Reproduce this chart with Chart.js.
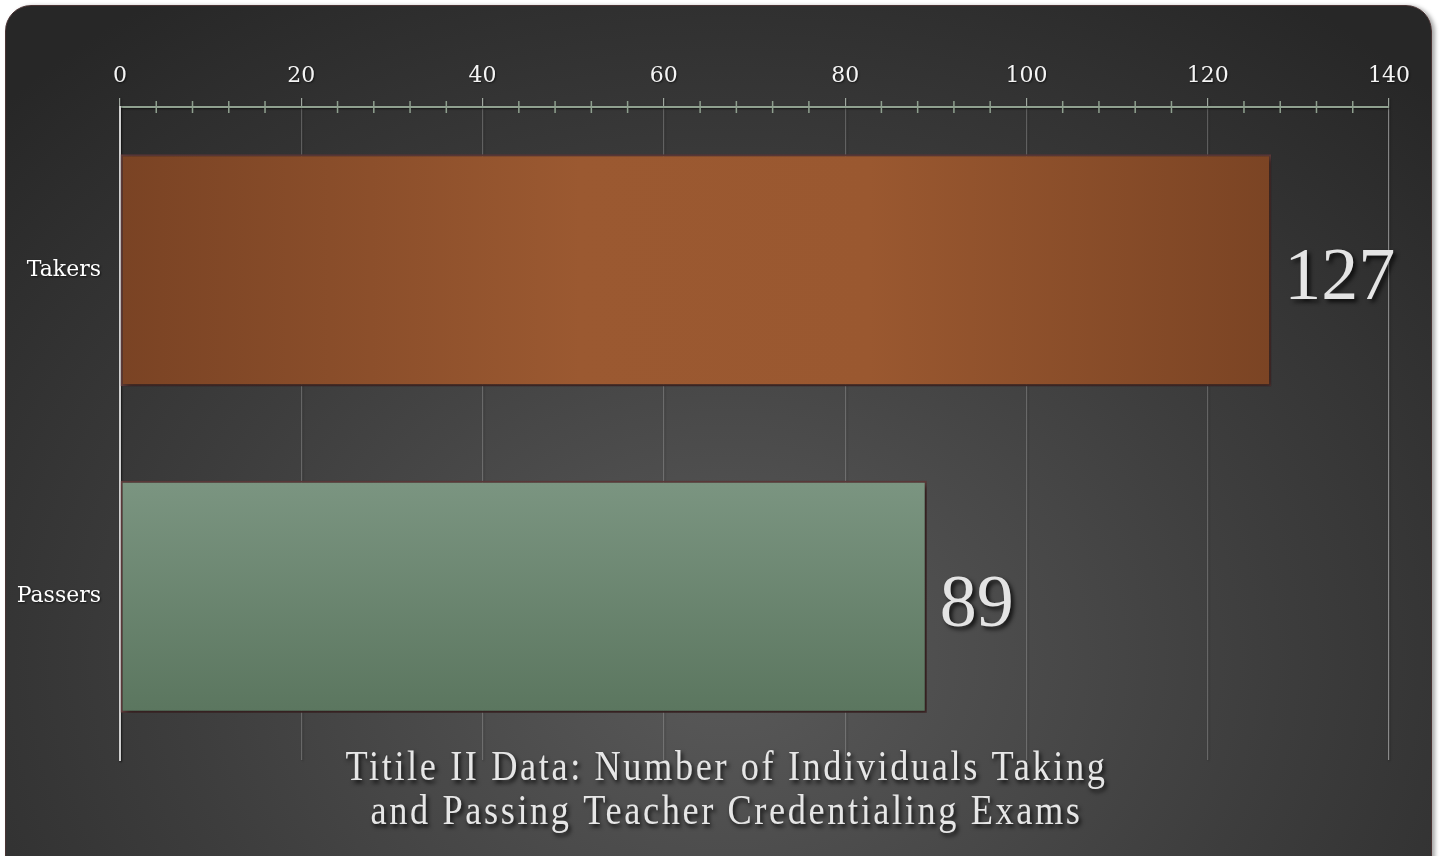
<!DOCTYPE html>
<html>
<head>
<meta charset="utf-8">
<script src="https://cdn.jsdelivr.net/npm/chart.js@4.4.0/dist/chart.umd.min.js"></script>
<style>
html, body { margin: 0; padding: 0; background: #fff; }
#wrap { position: relative; width: 1445px; height: 856px; overflow: hidden; }
#panel {
    position: absolute; left: 5px; top: 5px; width: 1425px; height: 900px;
    border-radius: 26px; border: 1px solid #4a3434;
    background: radial-gradient(ellipse 1000px 800px at 720px 650px, #5a5a5a 0%, #3d3d3d 55%, #272727 100%);
    box-shadow: 3px 1px 4px rgba(0,0,0,0.35);
}
#chart { position: absolute; left: 0; top: 0; }
</style>
</head>
<body>
<div id="wrap">
    <div id="panel"></div>
    <canvas id="chart" width="1445" height="856"></canvas>
</div>
<script>
// ---- données ----
const categories = ['Takers', 'Passers'];
const values = [127, 89];
const xMin = 0;
const xMax = 140;
const minorStep = 4;
const majorStep = 20;
const titleLines = [
    'Titile II Data: Number of Individuals Taking',
    'and Passing Teacher Credentialing Exams'
];

// couleurs des barres (dégradés)
function barFill(c) {
    const chart = c.chart;
    const sx = chart.scales.x, sy = chart.scales.y;
    if (!chart.chartArea || !sx || !sy) return '#8a4f2b';
    const g = chart.ctx;
    if (c.dataIndex === 0) {
        const x0 = sx.getPixelForValue(0), x1 = sx.getPixelForValue(values[0]);
        const grad = g.createLinearGradient(x0, 0, x1, 0);
        grad.addColorStop(0, '#7a4324');
        grad.addColorStop(0.4, '#9b5931');
        grad.addColorStop(0.65, '#9a5830');
        grad.addColorStop(1, '#7b4424');
        return grad;
    }
    const yc = sy.getPixelForValue(c.dataIndex);
    const grad = g.createLinearGradient(0, yc - 116, 0, yc + 116);
    grad.addColorStop(0, '#7b9581');
    grad.addColorStop(1, '#5b765f');
    return grad;
}

// ---- plugin : ombres, valeurs, petites graduations, titre ----
const decor = {
    id: 'decor',
    beforeDraw(chart) {
        // légère ombre sous les libellés des axes
        const g = chart.ctx;
        g.save();
        g.shadowColor = 'rgba(0,0,0,0.6)';
        g.shadowBlur = 2;
        g.shadowOffsetX = 1;
        g.shadowOffsetY = 1;
    },
    beforeDatasetsDraw(chart) {
        const g = chart.ctx;
        g.restore();
        g.save();
        g.shadowColor = 'rgba(0,0,0,0.55)';
        g.shadowBlur = 6;
        g.shadowOffsetX = 3;
        g.shadowOffsetY = 3;
    },
    afterDatasetsDraw(chart) {
        const g = chart.ctx;
        g.restore();
        const meta = chart.getDatasetMeta(0);
        g.save();
        g.font = '74px "Liberation Serif"';
        g.fillStyle = '#e4e4e4';
        g.textAlign = 'left';
        g.textBaseline = 'alphabetic';
        g.shadowColor = 'rgba(0,0,0,0.75)';
        g.shadowBlur = 4;
        g.shadowOffsetX = 3;
        g.shadowOffsetY = 3;
        meta.data.forEach((el, i) => {
            g.fillText(String(values[i]), el.x + 13, el.y + 29);
        });
        g.restore();
    },
    afterDraw(chart) {
        const g = chart.ctx;
        const sx = chart.scales.x;
        const top = chart.chartArea.top;
        // graduations qui traversent l'axe
        g.save();
        g.strokeStyle = '#8fa08f';
        g.lineWidth = 1.5;
        sx.ticks.forEach(t => {
            if (t.value % majorStep === 0) return;
            const px = sx.getPixelForValue(t.value);
            g.beginPath();
            g.moveTo(px, top - 6);
            g.lineTo(px, top + 6);
            g.stroke();
        });
        g.restore();

        // titre
        g.save();
        g.font = '42px "Liberation Serif"';
        g.letterSpacing = '3px';
        g.fillStyle = '#e6e6e6';
        g.textAlign = 'center';
        g.textBaseline = 'alphabetic';
        g.shadowColor = 'rgba(0,0,0,0.8)';
        g.shadowBlur = 4;
        g.shadowOffsetX = 2;
        g.shadowOffsetY = 3;
        const w1 = g.measureText(titleLines[0]).width;
        const k = 762 / w1;
        const cx = chart.width / 2 + 4;
        [780, 824].forEach((by, i) => {
            g.save();
            g.translate(cx, by);
            g.scale(k, 1);
            g.fillText(titleLines[i], 0, 0);
            g.restore();
        });
        g.restore();
    }
};

new Chart(document.getElementById('chart').getContext('2d'), {
    type: 'bar',
    data: {
        labels: categories,
        datasets: [{
            data: values,
            backgroundColor: barFill,
            borderColor: '#5e3a3a',
            borderWidth: 2,
            borderSkipped: false,
            categoryPercentage: 0.71,
            barPercentage: 1
        }]
    },
    options: {
        indexAxis: 'y',
        responsive: false,
        animation: false,
        layout: { padding: { left: 0, right: 56, top: 0, bottom: 96 } },
        plugins: {
            legend: { display: false },
            tooltip: { enabled: false },
            title: { display: false }
        },
        scales: {
            x: {
                position: 'top',
                min: xMin,
                max: xMax,
                afterFit: s => { s.height = 107; },
                ticks: {
                    stepSize: minorStep,
                    autoSkip: false,
                    maxRotation: 0,
                    padding: 9,
                    color: '#f4f4f4',
                    font: { family: '"DejaVu Serif"', size: 22 },
                    callback: v => (v % majorStep === 0 ? v : '')
                },
                grid: {
                    tickLength: 9,
                    lineWidth: 1.2,
                    color: c => (c.tick && c.tick.value % majorStep === 0
                        ? (c.tick.value === xMax ? 'rgba(210,210,210,0.55)' : 'rgba(180,180,180,0.35)')
                        : 'transparent'),
                    tickColor: c => (c.tick && c.tick.value % majorStep === 0 ? 'rgba(190,200,190,0.8)' : 'transparent')
                },
                border: { display: true, color: '#8fa08f', width: 2 }
            },
            y: {
                afterFit: s => { s.width = 120; },
                ticks: {
                    padding: 11,
                    color: '#ffffff',
                    font: { family: '"DejaVu Serif"', size: 22 }
                },
                grid: { display: false },
                border: { display: true, color: '#d0d0d0', width: 2 }
            }
        }
    },
    plugins: [decor]
});
</script>
</body>
</html>
